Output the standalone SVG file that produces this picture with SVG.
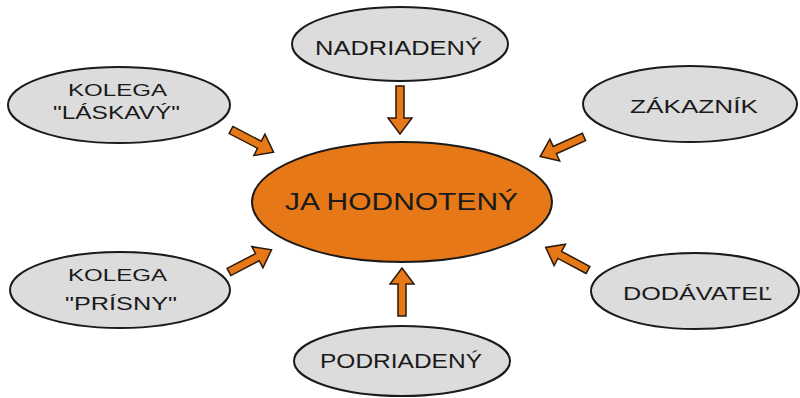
<svg xmlns="http://www.w3.org/2000/svg" xmlns:xlink="http://www.w3.org/1999/xlink" width="800" height="398" viewBox="0 0 800 398">
<style>
.node{fill:#dcdcdc;stroke:#1a1a1a;stroke-width:2}
.center{fill:#e67817;stroke:#1a1a1a;stroke-width:2}
.t{font-family:"Liberation Sans",Arial,sans-serif;fill:#1a1a1a;text-anchor:start}
.arrow{fill:#e67817;stroke:#2a1a0a;stroke-width:1.5;stroke-linejoin:miter}
</style>
<defs>
<path id="arr" class="arrow" d="M0,-4 L32,-4 L32,-12 L48,0 L32,12 L32,4 L0,4 Z"/>
</defs>
<rect width="800" height="398" fill="#ffffff"/>
<g id="connectors">
<use xlink:href="#arr" transform="translate(400,86) rotate(90)"/>
<use xlink:href="#arr" transform="translate(402,316) rotate(-90)"/>
<use xlink:href="#arr" transform="translate(584,137) rotate(155.9)"/>
<use xlink:href="#arr" transform="translate(588,270) rotate(208.1)"/>
<use xlink:href="#arr" transform="translate(231,130) rotate(27.5)"/>
<use xlink:href="#arr" transform="translate(229,272) rotate(-27.6)"/>
</g>
<g id="center">
<ellipse class="center" cx="402" cy="202" rx="150" ry="60"/>
<text class="t" x="285" y="210" font-size="23" textLength="233" lengthAdjust="spacingAndGlyphs">JA HODNOTENÝ</text>
</g>
<g id="nadriadeny">
<ellipse class="node" cx="400" cy="44" rx="108" ry="37"/>
<text class="t" x="315" y="55" font-size="20" textLength="167" lengthAdjust="spacingAndGlyphs">NADRIADENÝ</text>
</g>
<g id="zakaznik">
<ellipse class="node" cx="690" cy="104" rx="107" ry="38"/>
<text class="t" x="630" y="113" font-size="18" textLength="128" lengthAdjust="spacingAndGlyphs">ZÁKAZNÍK</text>
</g>
<g id="kolega-laskavy">
<ellipse class="node" cx="119" cy="105" rx="111" ry="38"/>
<text class="t" x="68" y="96" font-size="16" textLength="99" lengthAdjust="spacingAndGlyphs">KOLEGA</text>
<text class="t" x="53" y="119" font-size="18" textLength="127" lengthAdjust="spacingAndGlyphs">"LÁSKAVÝ"</text>
</g>
<g id="kolega-prisny">
<ellipse class="node" cx="120" cy="290" rx="110" ry="38"/>
<text class="t" x="68" y="281" font-size="16" textLength="99" lengthAdjust="spacingAndGlyphs">KOLEGA</text>
<text class="t" x="65" y="310" font-size="18" textLength="112" lengthAdjust="spacingAndGlyphs">"PRÍSNY"</text>
</g>
<g id="podriadeny">
<ellipse class="node" cx="402" cy="361" rx="108" ry="35"/>
<text class="t" x="320" y="368" font-size="20" textLength="162" lengthAdjust="spacingAndGlyphs">PODRIADENÝ</text>
</g>
<g id="dodavatel">
<ellipse class="node" cx="695" cy="291" rx="104" ry="38"/>
<text class="t" x="623" y="300" font-size="18" textLength="149" lengthAdjust="spacingAndGlyphs">DODÁVATEĽ</text>
</g>
</svg>
